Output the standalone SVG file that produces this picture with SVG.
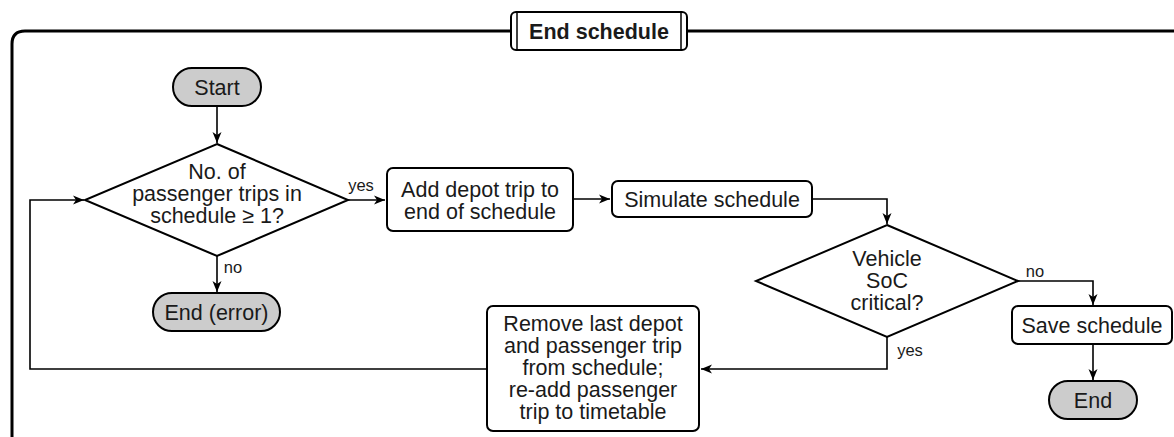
<svg xmlns="http://www.w3.org/2000/svg" width="1174" height="437" viewBox="0 0 1174 437">
<defs>
<marker id="arr" markerUnits="userSpaceOnUse" markerWidth="12" markerHeight="10" refX="11" refY="5" orient="auto">
<path d="M0,0.5 L11,5 L0,9.5 L3,5 Z" fill="#000"/>
</marker>
</defs>
<style>
text{font-family:"Liberation Sans",Arial,sans-serif;font-size:21.5px;fill:#1a1a1a;text-anchor:middle}
.lbl{font-size:16.5px}
.term{fill:#cccccc;stroke:#000;stroke-width:2}
.box{fill:#fff;stroke:#000;stroke-width:2}
.con{fill:none;stroke:#000;stroke-width:1.6;marker-end:url(#arr)}
.line{fill:none;stroke:#000;stroke-width:1.6}
</style>
<rect width="1174" height="437" fill="#fff"/>
<g id="frame">
<path d="M12,450 L12,44 Q12,31 25,31 L1180,31" fill="none" stroke="#000" stroke-width="3"/>
<rect x="511" y="12" width="176" height="38" rx="5" class="box"/>
<line x1="517" y1="12" x2="517" y2="50" stroke="#000" stroke-width="1.5"/>
<line x1="681" y1="12" x2="681" y2="50" stroke="#000" stroke-width="1.5"/>
<text x="599" y="38.5" font-weight="bold">End schedule</text>
</g>
<g id="connectors">
<path class="con" d="M217,106 L217,143"/>
<path class="con" d="M348,200 L385,200"/>
<text class="lbl" x="361" y="191">yes</text>
<path class="con" d="M217,256 L217,292"/>
<text class="lbl" x="233" y="273">no</text>
<path class="con" d="M573,199 L610,199"/>
<path class="con" d="M812,199 L887,199 L887,224"/>
<path class="con" d="M1018,281 L1093,281 L1093,305"/>
<text class="lbl" x="1035" y="277">no</text>
<path class="con" d="M1093,344 L1093,380"/>
<path class="con" d="M887,337 L887,369 L701,369"/>
<text class="lbl" x="910" y="356">yes</text>
<path class="con" d="M487,369 L30,369 L30,200 L84,200"/>
</g>
<g id="start">
<rect x="173" y="68" width="88" height="38" rx="19" class="term"/>
<text x="217" y="95">Start</text>
</g>
<g id="check-trips">
<polygon points="217,144 348,200 217,256 85,200" class="box"/>
<text x="217" y="178.5">No. of</text>
<text x="217" y="200.5">passenger trips in</text>
<text x="217" y="222.5">schedule ≥ 1?</text>
</g>
<g id="end-error">
<rect x="153" y="293" width="127" height="38" rx="19" class="term"/>
<text x="216.5" y="320">End (error)</text>
</g>
<g id="add-depot">
<rect x="387" y="168" width="186" height="63" rx="6" class="box"/>
<text x="480" y="197">Add depot trip to</text>
<text x="480" y="219">end of schedule</text>
</g>
<g id="simulate">
<rect x="612" y="181" width="200" height="36" rx="6" class="box"/>
<text x="712" y="207">Simulate schedule</text>
</g>
<g id="soc-check">
<polygon points="887,225 1018,281 887,337 756,281" class="box"/>
<text x="887" y="266">Vehicle</text>
<text x="887" y="288">SoC</text>
<text x="887" y="310">critical?</text>
</g>
<g id="save">
<rect x="1012" y="306" width="160" height="38" rx="6" class="box"/>
<text x="1092" y="333">Save schedule</text>
</g>
<g id="end">
<rect x="1049" y="381" width="88" height="38" rx="19" class="term"/>
<text x="1093" y="408">End</text>
</g>
<g id="remove">
<rect x="487" y="306" width="212" height="125" rx="6" class="box"/>
<text x="593" y="331">Remove last depot</text>
<text x="593" y="353">and passenger trip</text>
<text x="593" y="375">from schedule;</text>
<text x="593" y="397">re-add passenger</text>
<text x="593" y="419">trip to timetable</text>
</g>
</svg>
